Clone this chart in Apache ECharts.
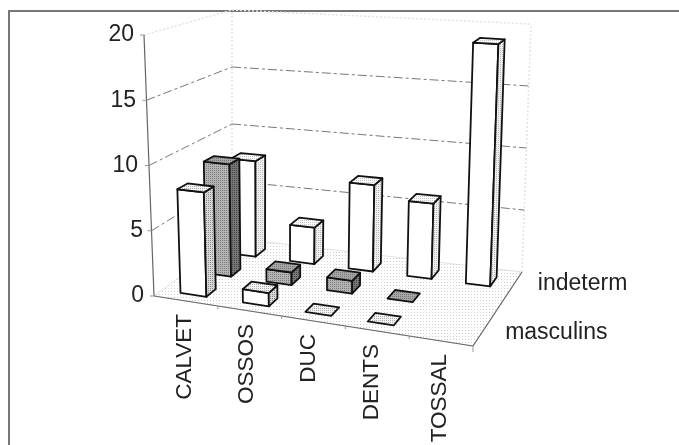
<!DOCTYPE html>
<html><head><meta charset="utf-8">
<style>html,body{margin:0;padding:0;background:#fff}#c{width:679px;height:445px;filter:blur(0.45px)}</style>
<script src="https://cdn.jsdelivr.net/npm/echarts@6/dist/echarts.min.js"></script>
</head><body><div id="c"></div>
<script>
const categories = ['CALVET','OSSOS','DUC','DENTS','TOSSAL'];
const depthLabels = ['masculins','','indeterm'];
const frontRow = [8,1,0,0,null];
const middleRow = [9,1,1,0,null];
const backRow = [8,3,7,6,19];
const valueTicks = [0,5,10,15,20];
const gridValues = [5,10,15];

const FONT = '"Liberation Sans", Arial, sans-serif';
const catNudge = [2,0,-2,-3,2];
// corners of the projected box: [value level][depth][column]
const BOX = [
  [[[154,296],[473,346]],[[232,238],[522,272]]],
  [[[144,35],[484,61]],[[232,10],[531,24]]]
];
const lerp=(a,b,t)=>[a[0]+(b[0]-a[0])*t,a[1]+(b[1]-a[1])*t];
function project(u,w,t){
  const lo=lerp(lerp(BOX[0][0][0],BOX[0][0][1],u),lerp(BOX[0][1][0],BOX[0][1][1],u),w);
  const hi=lerp(lerp(BOX[1][0][0],BOX[1][0][1],u),lerp(BOX[1][1][0],BOX[1][1][1],u),w);
  return lerp(lo,hi,t);
}
function stipple(bg,dot,step){
  const c=document.createElement('canvas');c.width=c.height=step;
  const g=c.getContext('2d');g.fillStyle=bg;g.fillRect(0,0,step,step);
  g.fillStyle=dot;g.fillRect(0,0,1,1);
  return {image:c,repeat:'repeat'};
}
const STYLES=[
 {front:'#ffffff',side:stipple('#d8d8d8','#8a8a8a',2),top:stipple('#f2f2f2','#b0b0b0',2)},
 {front:stipple('#b4b4b4','#7c7c7c',2),side:stipple('#777','#444',2),top:stipple('#a6a6a6','#777',2)},
 {front:'#ffffff',side:stipple('#f0f0f0','#b8b8b8',2),top:stipple('#fafafa','#c8c8c8',2)}
];
function norm(api,params,col,val){
  const s=params.coordSys, p=api.coord([col,val]), bw=api.size([1,0])[0];
  return {u:(p[0]-bw/2-s.x)/s.width, bw:bw/s.width, t:(s.y+s.height-p[1])/s.height};
}
function barSeries(row,values){
  const BW=0.41, DW=0.38, SQUEEZE=0.988;
  return {type:'custom',coordinateSystem:'cartesian2d',silent:true,
    data:values.map((v,i)=>[i,v]).filter(d=>d[1]!==null),
    encode:{x:0,y:1},
    renderItem(params,api){
      const n=norm(api,params,api.value(0),api.value(1));
      const u0=(n.u+n.bw*(1-BW)/2)*SQUEEZE,u1=u0+n.bw*BW;
      const w0=(row+(1-DW)/2)/3,w1=w0+DW/3;
      const st=STYLES[row],ln={stroke:'#111',lineWidth:1.8,lineJoin:'round'};
      const poly=(pts,fill)=>({type:'polygon',shape:{points:pts},style:Object.assign({fill},ln)});
      const top=poly([project(u0,w0,n.t),project(u1,w0,n.t),project(u1,w1,n.t),project(u0,w1,n.t)],st.top);
      if(n.t===0) return {type:'group',children:[top]};
      return {type:'group',children:[
        poly([project(u0,w0,0),project(u1,w0,0),project(u1,w0,n.t),project(u0,w0,n.t)],st.front),
        poly([project(u1,w0,0),project(u1,w1,0),project(u1,w1,n.t),project(u1,w0,n.t)],st.side),
        top
      ]};
    }};
}
const line=(a,b,style)=>({type:'line',shape:{x1:a[0],y1:a[1],x2:b[0],y2:b[1]},style});
const AXIS={stroke:'#666',lineWidth:1.2};
const TICK={stroke:'#999',lineWidth:1};
const GRID={stroke:'#777',lineWidth:1,lineDash:[9,3,3,3]};
const DOTS={stroke:'#e2e2e2',lineWidth:1.5,lineDash:[2,2]};

const wallSeries={type:'custom',coordinateSystem:'cartesian2d',silent:true,
  data:[[0,0]],encode:{x:0,y:1},
  renderItem(){
    const kids=[
      {type:'polygon',shape:{points:[project(0,0,0),project(1,0,0),project(1,1,0),project(0,1,0)]},
       style:{fill:stipple('#ffffff','#d0d0d0',3),stroke:'#ccc',lineWidth:.6}},
      line(project(0,1,0),project(0,1,1),DOTS),
      line(project(1,1,0),project(1,1,1),DOTS),
      line(project(0,1,1),project(1,1,1),DOTS),
      line(project(0,0,1),project(0,1,1),DOTS),
      line(project(0,0,0),project(0,0,1),AXIS),
      line(project(0,0,0),project(1,0,0),AXIS),
      line(project(1,0,0),project(1,1,0),AXIS)
    ];
    valueTicks.forEach(v=>{const p=project(0,0,v/20);kids.push(line([p[0]-4,p[1]],p,TICK));});
    categories.forEach((c,i)=>{const p=project((i+1)/5,0,0);kids.push(line(p,[p[0],p[1]+(i===4?6:3)],TICK));});
    return {type:'group',children:kids};
  }};
const gridSeries={type:'custom',coordinateSystem:'cartesian2d',silent:true,
  data:gridValues.map(v=>[0,v]),encode:{x:0,y:1},
  renderItem(params,api){
    const t=norm(api,params,0,api.value(1)).t;
    return {type:'group',children:[
      line(project(0,0,t),project(0,1,t),GRID),
      line(project(0,1,t),project(1,1,t),GRID)
    ]};
  }};
const catLabelSeries={type:'custom',coordinateSystem:'cartesian2d',silent:true,
  data:categories.map((c,i)=>[i,0]),encode:{x:0,y:1},
  renderItem(params,api){
    const i=api.value(0),n=norm(api,params,i,0),p=project(n.u+n.bw/2,0,0);
    return {type:'text',x:p[0]-3+catNudge[i],y:p[1]+13,rotation:Math.PI/2,
      style:{text:categories[i],font:'22.5px '+FONT,fill:'#222',align:'right',verticalAlign:'middle'}};
  }};
const depthLabelSeries={type:'custom',coordinateSystem:'cartesian2d',silent:true,
  data:depthLabels.map((c,i)=>[4,0,i]).filter(d=>depthLabels[d[2]]),encode:{x:0,y:1},
  renderItem(params,api){
    const r=api.value(2),p=project(1,(r+.5)/3,0);
    return {type:'text',x:p[0]+24,y:p[1]-1,
      style:{text:depthLabels[r],font:'23px '+FONT,fill:'#222',align:'left',verticalAlign:'middle'}};
  }};

const tickPad={0:0,5:1,10:6,15:8,20:10};
const rich={};valueTicks.forEach(v=>{rich['t'+v]={padding:[0,tickPad[v],0,0],fontSize:23,fontFamily:FONT,color:'#222'};});

const chart=echarts.init(document.getElementById('c'),null,{renderer:'canvas'});
chart.setOption({
  animation:false,backgroundColor:'#fff',
  grid:{left:154,top:35,width:319,height:261,containLabel:false},
  xAxis:{type:'category',data:categories,axisLine:{show:false},axisTick:{show:false},axisLabel:{show:false},splitLine:{show:false}},
  yAxis:{type:'value',min:0,max:20,interval:5,axisLine:{show:false},axisTick:{show:false},splitLine:{show:false},
    axisLabel:{margin:10,align:'right',formatter:v=>`{t${v}|${v}}`,rich}},
  graphic:[
    {type:'polyline',shape:{points:[[9,445],[9,11],[679,11]]},style:{fill:'none',stroke:'#777',lineWidth:2},silent:true}
  ],
  series:[wallSeries,gridSeries,barSeries(2,backRow),barSeries(1,middleRow),barSeries(0,frontRow),catLabelSeries,depthLabelSeries]
});
</script></body></html>
